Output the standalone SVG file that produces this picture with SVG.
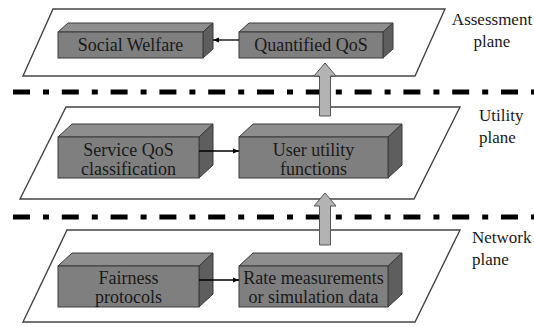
<svg xmlns="http://www.w3.org/2000/svg" width="534" height="327" viewBox="0 0 534 327">
<style>
.plane{fill:#fff;stroke:#444;stroke-width:1.4}
.front{fill:#7f7f7f;stroke:#3a3a3a;stroke-width:1}
.top{fill:#8e8e8e;stroke:#3a3a3a;stroke-width:1}
.side{fill:#5e5e5e;stroke:#3a3a3a;stroke-width:1}
text{font-family:'Liberation Serif','Times New Roman','DejaVu Serif',serif;fill:#1a1a1a}
.t{font-size:18px;text-anchor:middle}
.lbl{font-size:17px}
.sep{stroke:#000;stroke-width:5;stroke-dasharray:17 13 6 12.8;fill:none}
.link{stroke:#000;stroke-width:1.3;fill:none;marker-end:url(#ah)}
.big{fill:#b3b3b3;stroke:#555;stroke-width:1}
</style>
<defs>
<marker id="ah" viewBox="0 0 10 10" refX="10" refY="5" markerWidth="6" markerHeight="6" markerUnits="userSpaceOnUse" orient="auto">
<path d="M0,1 L10,5 L0,9 z" fill="#000"/>
</marker>
</defs>
<g id="planes">
<polygon class="plane" points="53,9 445,9 415,76 23,76"/>
<polygon class="plane" points="66,107 460,107 414,199 20,199"/>
<polygon class="plane" points="67,230 460,230 415,322 23,322"/>
</g>
<g id="separators">
<line class="sep" x1="13" y1="92" x2="534" y2="92"/>
<line class="sep" x1="13" y1="217" x2="534" y2="217"/>
</g>
<g id="plane-labels">
<text class="lbl" x="492" y="25" text-anchor="middle">Assessment</text>
<text class="lbl" x="492" y="47" text-anchor="middle">plane</text>
<text class="lbl" x="479" y="121">Utility</text>
<text class="lbl" x="479" y="143">plane</text>
<text class="lbl" x="472" y="243">Network</text>
<text class="lbl" x="472" y="265">plane</text>
</g>
<g id="social-welfare">
<polygon class="top" points="58,32 68,23 213,23 203,32"/>
<polygon class="side" points="203,32 213,23 213,49 203,58"/>
<rect class="front" x="58" y="32" width="145" height="26"/>
<text class="t" x="130.5" y="51">Social Welfare</text>
</g>
<g id="quantified-qos">
<polygon class="top" points="239,32 249,23 393,23 383,32"/>
<polygon class="side" points="383,32 393,23 393,49 383,58"/>
<rect class="front" x="239" y="32" width="144" height="26"/>
<text class="t" x="311" y="51">Quantified QoS</text>
</g>
<g id="service-qos">
<polygon class="top" points="58,137 72,124 213,124 199,137"/>
<polygon class="side" points="199,137 213,124 213,165 199,178"/>
<rect class="front" x="58" y="137" width="141" height="41"/>
<text class="t" x="128.5" y="156">Service QoS</text>
<text class="t" x="128.5" y="175">classification</text>
</g>
<g id="user-utility">
<polygon class="top" points="239,137 253,124 402,124 388,137"/>
<polygon class="side" points="388,137 402,124 402,165 388,178"/>
<rect class="front" x="239" y="137" width="149" height="41"/>
<text class="t" x="313.5" y="156">User utility</text>
<text class="t" x="313.5" y="175">functions</text>
</g>
<g id="fairness">
<polygon class="top" points="58,266 72,253 213,253 199,266"/>
<polygon class="side" points="199,266 213,253 213,294 199,307"/>
<rect class="front" x="58" y="266" width="141" height="41"/>
<text class="t" x="128.5" y="284">Fairness</text>
<text class="t" x="128.5" y="303">protocols</text>
</g>
<g id="rate-measurements">
<polygon class="top" points="239,266 253,253 402,253 388,266"/>
<polygon class="side" points="388,266 402,253 402,294 388,307"/>
<rect class="front" x="239" y="266" width="149" height="41"/>
<text class="t" x="313.5" y="284">Rate measurements</text>
<text class="t" x="313.5" y="303">or simulation data</text>
</g>
<g id="connectors">
<line class="link" x1="239" y1="40" x2="213" y2="40"/>
<line class="link" x1="199" y1="151" x2="239" y2="151"/>
<line class="link" x1="199" y1="280" x2="239" y2="280"/>
<polygon class="big" points="325,63 336,76 330.5,76 330.5,116 319.5,116 319.5,76 314,76"/>
<polygon class="big" points="325,193 336,206 330.5,206 330.5,245 319.5,245 319.5,206 314,206"/>
</g>
</svg>
